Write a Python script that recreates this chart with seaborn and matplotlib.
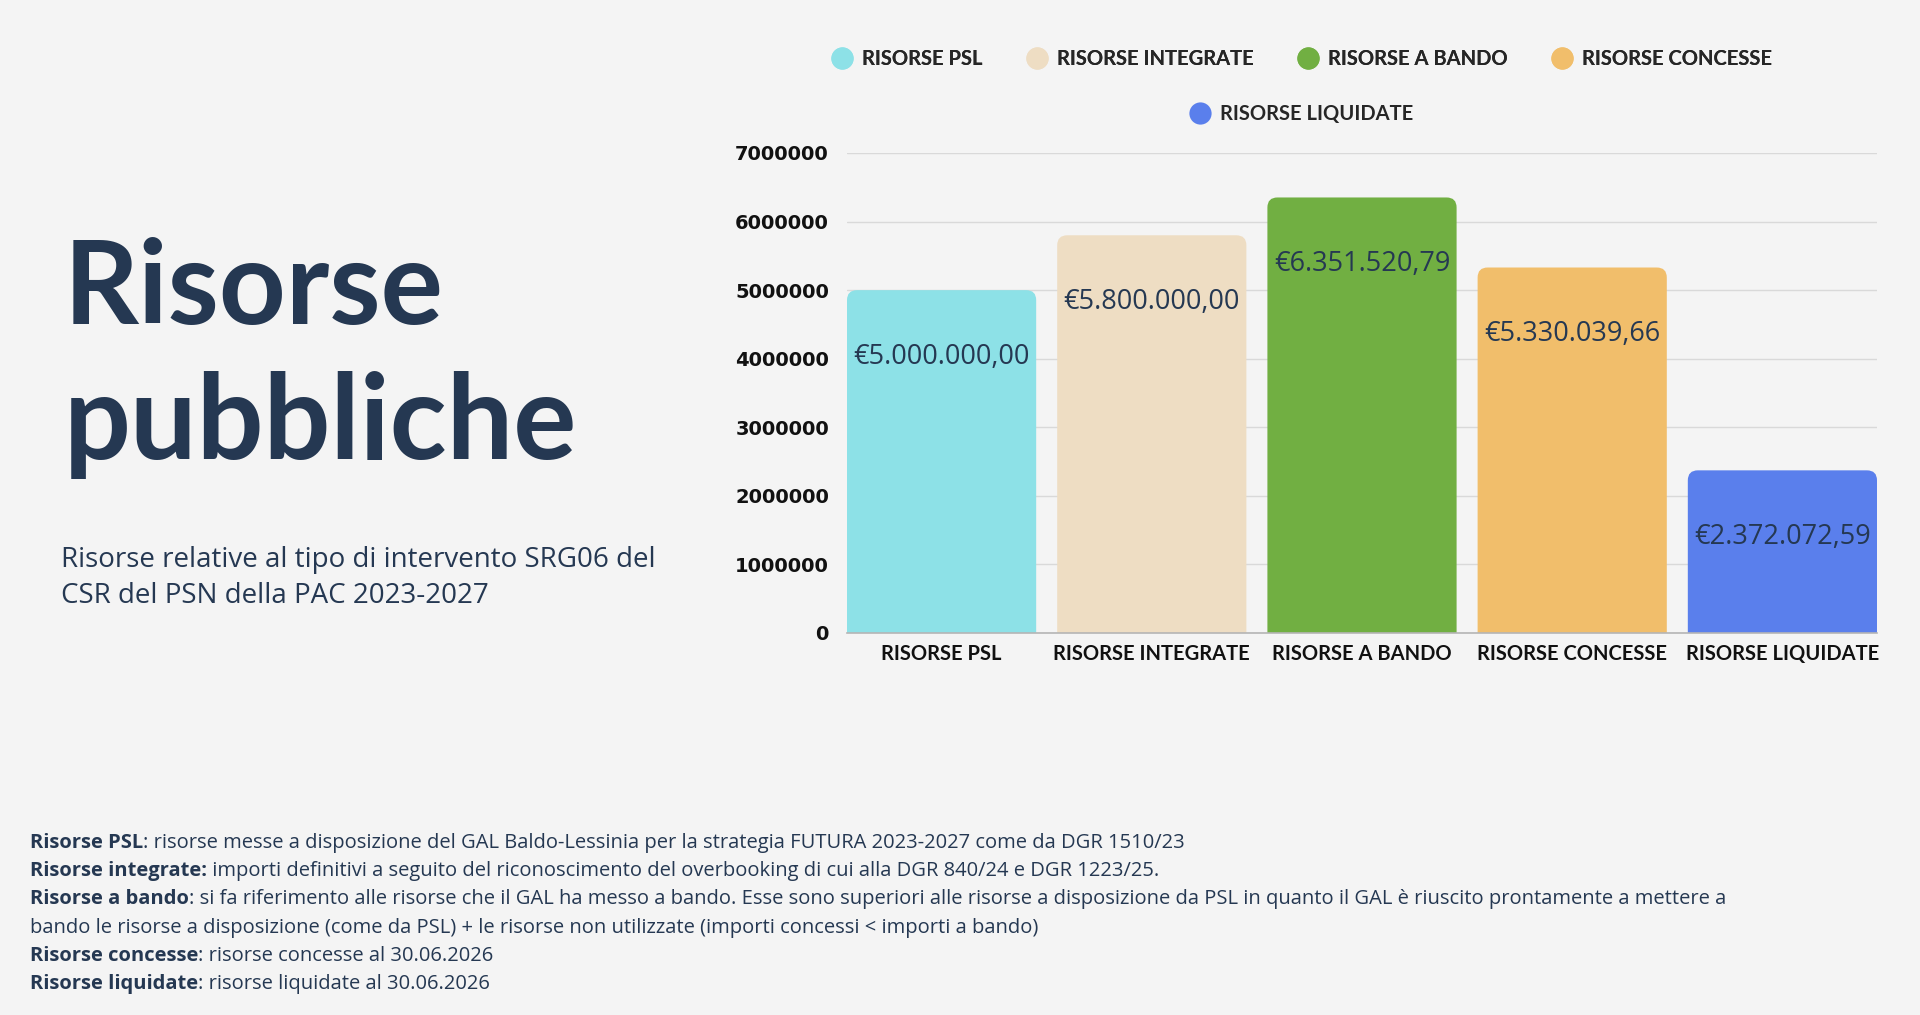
import seaborn as sns
import matplotlib.pyplot as plt
from matplotlib.lines import Line2D
from matplotlib.patches import FancyBboxPatch

W, H = 1920, 1015
BG = "#f4f4f4"
NAVY = "#253852"

categories = ["RISORSE PSL", "RISORSE INTEGRATE", "RISORSE A BANDO",
              "RISORSE CONCESSE", "RISORSE LIQUIDATE"]
values = [5000000.00, 5800000.00, 6351520.79, 5330039.66, 2372072.59]
value_labels = ["€5.000.000,00", "€5.800.000,00", "€6.351.520,79",
                "€5.330.039,66", "€2.372.072,59"]
bar_colors = ["#8de1e7", "#eeddc3", "#71af42", "#f1be6b", "#5a7fec"]
y_ticks = [0, 1000000, 2000000, 3000000, 4000000, 5000000, 6000000, 7000000]

title_lines = ["Risorse", "pubbliche"]
subtitle_lines = ["Risorse relative al tipo di intervento SRG06 del",
                  "CSR del PSN della PAC 2023-2027"]
notes = [
    ("Risorse PSL", ": risorse messe a disposizione del GAL Baldo-Lessinia per la strategia FUTURA 2023-2027 come da DGR 1510/23"),
    ("Risorse integrate:", " importi definitivi a seguito del riconoscimento del overbooking di cui alla DGR 840/24 e DGR 1223/25."),
    ("Risorse a bando", ": si fa riferimento alle risorse che il GAL ha messo a bando. Esse sono superiori alle risorse a disposizione da PSL in quanto il GAL è riuscito prontamente a mettere a"),
    ("", "bando le risorse a disposizione (come da PSL) + le risorse non utilizzate (importi concessi < importi a bando)"),
    ("Risorse concesse", ": risorse concesse al 30.06.2026"),
    ("Risorse liquidate", ": risorse liquidate al 30.06.2026"),
]


def fx(px):
    return px / W


def fy(px):
    return 1 - px / H


def main():
    sns.set_style("white", {"axes.facecolor": BG, "figure.facecolor": BG})
    plt.rcParams['font.family'] = ['Lato', 'DejaVu Sans']

    fig = plt.figure(figsize=(19.2, 10.15), dpi=100, facecolor=BG)
    ax = fig.add_axes([fx(847), fy(633), fx(1877 - 847), (633 - 153) / H])

    sns.barplot(x=categories, y=values, hue=categories, palette=bar_colors,
                saturation=1, width=0.9, legend=False, ax=ax, zorder=3)
    ax.set_xlim(-0.45, 4.45)
    ax.set_ylim(0, 7000000)

    # rounded top corners
    r_px = 10
    t0 = ax.transData.transform((0, 0))
    t1 = ax.transData.transform((1, 1000000))
    r_x = r_px / (t1[0] - t0[0])
    r_y = r_px / (t1[1] - t0[1]) * 1000000
    for p in list(ax.patches):
        x, w, h = p.get_x(), p.get_width(), p.get_height()
        fc = p.get_facecolor()
        p.remove()
        ax.add_patch(FancyBboxPatch(
            (x, -r_y), w, h + r_y,
            boxstyle=f"round,pad=0,rounding_size={r_x}",
            mutation_aspect=r_y / r_x, facecolor=fc, edgecolor='none',
            zorder=3, clip_on=True))
    ax.set_xlim(-0.45, 4.45)
    ax.set_ylim(0, 7000000)

    for i, (v, lbl) in enumerate(zip(values, value_labels)):
        ax.annotate(lbl, xy=(i, v), xytext=(0, -48), textcoords='offset points',
                    ha='center', va='center', fontsize=19.5, color=NAVY,
                    family='Open Sans', zorder=4)

    ax.set_yticks(y_ticks)
    ax.set_yticklabels([str(t) for t in y_ticks])
    ax.set_xticks(range(len(categories)))
    ax.set_xticklabels(categories)
    for lab in ax.get_yticklabels():
        lab.set_family('DejaVu Sans')
        lab.set_fontweight('bold')
        lab.set_fontsize(14)
        lab.set_color('#111111')
    for lab in ax.get_xticklabels():
        lab.set_fontweight('bold')
        lab.set_fontsize(14.5)
        lab.set_color('#111111')
    ax.tick_params(axis='y', length=0, pad=13)
    ax.tick_params(axis='x', length=0, pad=8)
    ax.set_xlabel('')
    ax.set_ylabel('')

    ax.grid(axis='y', color='#d9d9d9', linewidth=1, zorder=0)
    ax.grid(axis='x', visible=False)
    for s in ['top', 'right', 'left']:
        ax.spines[s].set_visible(False)
    ax.spines['bottom'].set_color('#b5b5b5')
    ax.spines['bottom'].set_linewidth(1.2)
    ax.spines['bottom'].set_zorder(5)

    # legend in two rows, centred
    handles = [Line2D([], [], marker='o', linestyle='', markersize=16,
                      markerfacecolor=c, markeredgewidth=0) for c in bar_colors]
    leg_kw = dict(loc='center', frameon=False, handlelength=1.0,
                  handletextpad=0.5, columnspacing=2.2,
                  prop={'weight': 'bold', 'size': 14.5, 'family': 'Lato'})
    leg1 = fig.legend(handles[:4], categories[:4], ncol=4,
                      bbox_to_anchor=(fx(1302), fy(59)), **leg_kw)
    fig.legend(handles[4:], categories[4:], ncol=1,
               bbox_to_anchor=(fx(1302), fy(114)), **leg_kw)
    fig.add_artist(leg1)

    # title and subtitle
    fig.text(fx(64), fy(324), title_lines[0], fontsize=84, fontweight='bold',
             color=NAVY, va='baseline')
    fig.text(fx(64), fy(459), title_lines[1], fontsize=85, fontweight='bold',
             color=NAVY, va='baseline')
    for i, line in enumerate(subtitle_lines):
        fig.text(fx(61), fy(567 + i * 36), line, fontsize=20, color=NAVY,
                 family='Open Sans', va='baseline')

    # footnotes
    for i, (bold, rest) in enumerate(notes):
        y = fy(848 + i * 28.2)
        if bold:
            t = fig.text(fx(30), y, bold, fontsize=14.5, fontweight='bold',
                         color=NAVY, family='Open Sans', va='baseline')
            ax.annotate(rest, xy=(1, 0), xycoords=t, va='bottom', ha='left',
                        fontsize=14.5, color=NAVY, family='Open Sans')
        else:
            fig.text(fx(30), y, rest, fontsize=14.5, color=NAVY,
                     family='Open Sans', va='baseline')

    plt.savefig("out.png", dpi=100, facecolor=BG)


if __name__ == "__main__":
    main()
